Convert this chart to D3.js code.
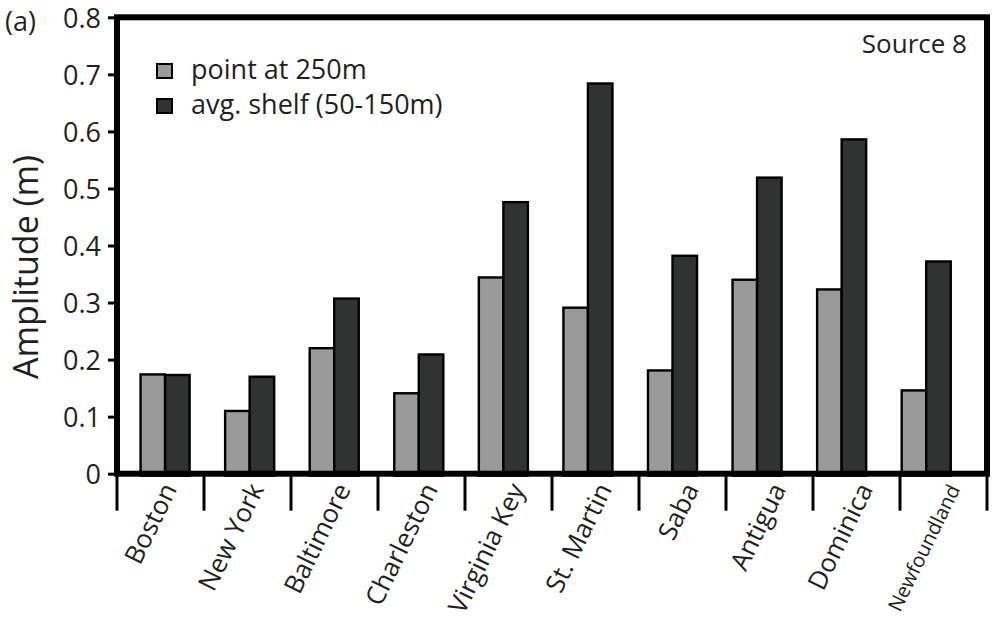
<!DOCTYPE html>
<html>
<head>
<meta charset="utf-8">
<script src="https://cdn.jsdelivr.net/npm/d3@7/dist/d3.min.js"></script>
<style>
  html, body { margin: 0; padding: 0; background: #fff; }
  svg { display: block; font-family: "Open Sans", "Noto Sans", sans-serif; }
</style>
</head>
<body>
<svg id="chart" width="996" height="623"></svg>
<script>
// Tide-gauge sites
const sites = ["Boston", "New York", "Baltimore", "Charleston", "Virginia Key",
               "St. Martin", "Saba", "Antigua", "Dominica", "Newfoundland"];
// Amplitude (m) at the 250 m point
const pointAt250 = [0.174, 0.110, 0.220, 0.141, 0.344, 0.291, 0.181, 0.340, 0.323, 0.146];
// Amplitude (m) averaged over the 50-150 m shelf
const avgShelf   = [0.173, 0.170, 0.307, 0.209, 0.476, 0.684, 0.382, 0.519, 0.586, 0.372];
const yTicks = [0, 0.1, 0.2, 0.3, 0.4, 0.5, 0.6, 0.7, 0.8];
const seriesNames = ["point at 250m", "avg. shelf (50-150m)"];
const seriesColors = ["#999a99", "#313332"];
const sourceLabel = "Source 8";

const svg = d3.select("#chart");
const ink = "#231f20";

const plot = { left: 117, right: 987, top: 17.3, bottom: 473.7 };

const y = d3.scaleLinear().domain([0, 0.8]).range([plot.bottom, plot.top]);

// category slots along the axis (tick marks sit on slot edges)
const xSlot = d3.scaleBand().domain(sites).range([plot.left, plot.right]).padding(0);
// bar groups inside the frame
const xGroup = d3.scaleBand().domain(sites).range([122.8, 968.5])
  .paddingInner(0.42).paddingOuter(0.21);
const xSeries = d3.scaleBand().domain([0, 1]).range([0, xGroup.bandwidth()]).padding(0);

const rows = sites.map((s, i) => ({ site: s, vals: [pointAt250[i], avgShelf[i]] }));

// bars
const groups = svg.append("g").selectAll("g").data(rows).join("g")
  .attr("transform", d => `translate(${xGroup(d.site)},0)`);
groups.selectAll("rect").data(d => d.vals.map((v, k) => ({ v, k }))).join("rect")
  .attr("x", d => xSeries(d.k))
  .attr("y", d => y(d.v))
  .attr("width", xSeries.bandwidth())
  .attr("height", d => y(0) - y(d.v) + 2)
  .attr("fill", d => seriesColors[d.k])
  .attr("stroke", "#000")
  .attr("stroke-width", 2.4);

// frame
svg.append("rect")
  .attr("x", plot.left).attr("y", plot.top)
  .attr("width", plot.right - plot.left).attr("height", plot.bottom - plot.top)
  .attr("fill", "none").attr("stroke", "#000").attr("stroke-width", 6);

// y axis
const yAxis = d3.axisLeft(y).tickValues(yTicks)
  .tickFormat(d => d === 0 ? "0" : d3.format(".1f")(d))
  .tickSize(9).tickPadding(7);
const gy = svg.append("g").attr("transform", `translate(${plot.left},0)`).call(yAxis);
gy.select(".domain").remove();
gy.selectAll(".tick line").attr("stroke", "#000").attr("stroke-width", 3);
gy.selectAll(".tick text").attr("fill", ink).attr("font-size", 27)
  .attr("font-family", "'Open Sans', sans-serif").attr("dy", "0.36em");

// x axis: tick marks on slot edges, rotated site names
const edges = sites.map(s => xSlot(s)).concat([plot.right]);
svg.append("g").selectAll("line").data(edges).join("line")
  .attr("x1", d => d).attr("x2", d => d)
  .attr("y1", plot.bottom).attr("y2", plot.bottom + 37)
  .attr("stroke", "#000").attr("stroke-width", 3);

svg.append("g").selectAll("text").data(sites).join("text")
  .attr("transform", d => `translate(${xSlot(d) + xSlot.bandwidth() / 2 + 17},489) rotate(-64)`)
  .attr("text-anchor", "end")
  .attr("font-size", d => d === "Newfoundland" ? 20 : 26)
  .attr("fill", ink)
  .text(d => d);

// y axis title
svg.append("text")
  .attr("transform", "translate(38,267) rotate(-90)")
  .attr("text-anchor", "middle")
  .attr("font-size", 34).attr("fill", ink)
  .text("Amplitude (m)");

// panel letter
svg.append("text").attr("x", 5).attr("y", 31)
  .attr("font-size", 27).attr("fill", ink).text("(a)");

// source label
svg.append("text").attr("x", 967).attr("y", 53).attr("text-anchor", "end")
  .attr("font-size", 26).attr("fill", ink).text(sourceLabel);

// legend
const legend = svg.append("g").selectAll("g").data(seriesNames).join("g")
  .attr("transform", (d, i) => `translate(157,${64 + i * 35})`);
legend.append("rect")
  .attr("width", 15).attr("height", 14)
  .attr("fill", (d, i) => seriesColors[i])
  .attr("stroke", "#000").attr("stroke-width", 2);
legend.append("text")
  .attr("x", 34).attr("y", 15)
  .attr("font-size", 27).attr("fill", ink)
  .text(d => d);
</script>
</body>
</html>
